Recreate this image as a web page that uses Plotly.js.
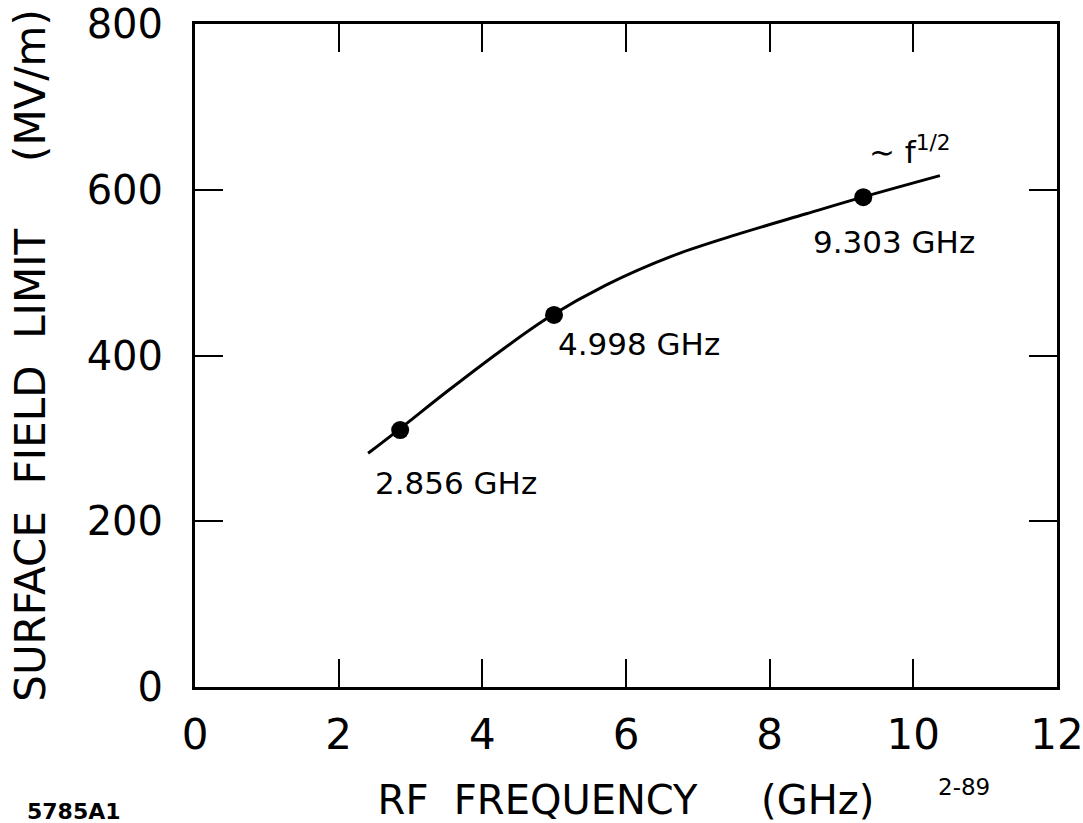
<!DOCTYPE html>
<html>
<head>
<meta charset="utf-8">
<script src="https://cdn.plot.ly/plotly-3.0.1.min.js"></script>
<style>html,body{margin:0;padding:0;background:#fff;}#chart{width:1083px;height:823px;}</style>
</head>
<body>
<div id="chart"></div>
<script>
// Curve (GHz, MV/m)
const curveFreq = [2.41, 2.83, 3.53, 4.23, 4.94, 5.72, 6.64, 7.58, 8.51, 9.21, 10.37];
const curveField = [282, 310, 358, 404, 447, 485, 520, 547, 571, 589, 617];
// Measured points
const pointFreq = [2.856, 4.998, 9.303];
const pointField = [310, 449, 591];
const pointLabels = ['2.856 GHz', '4.998 GHz', '9.303 GHz'];
const labelX = [2.484, 5.023, 8.58];
const labelY = [246, 414, 537];
// Axis ticks
const xTickVals = [0, 2, 4, 6, 8, 10, 12];
const xTickText = ['0', '2', '4', '6', '8', '10', '12'];
const yTickVals = [0, 200, 400, 600, 800];
const yTickText = ['0', '200', '400', '600', '800'];

const FONT = 'DejaVu Sans, Liberation Sans, sans-serif';
const NB = '\u00a0';

const traces = [
  {
    x: curveFreq, y: curveField, type: 'scatter', mode: 'lines',
    line: {color: '#000', width: 3, shape: 'spline', smoothing: 1},
    hoverinfo: 'skip', showlegend: false
  },
  {
    x: pointFreq, y: pointField, type: 'scatter', mode: 'markers',
    marker: {color: '#000', size: 18},
    showlegend: false
  }
];

const annotations = pointLabels.map((t, i) => ({
  x: labelX[i], y: labelY[i], xref: 'x', yref: 'y', text: t,
  showarrow: false, xanchor: 'left', yanchor: 'middle',
  font: {family: FONT, size: 31, color: '#000'}
}));
annotations.push({
  x: 9.36, y: 648, xref: 'x', yref: 'y',
  text: '\u223C' + NB + 'f<sup>1/2</sup>',
  showarrow: false, xanchor: 'left', yanchor: 'middle',
  font: {family: FONT, size: 31, color: '#000'}
});
annotations.push({
  x: -0.197, y: -0.1885, xref: 'paper', yref: 'paper', text: '<b>5785A1</b>',
  showarrow: false, xanchor: 'left', yanchor: 'middle',
  font: {family: FONT, size: 22, color: '#000'}
});
annotations.push({
  x: 0.86, y: -0.151, xref: 'paper', yref: 'paper', text: '2-89',
  showarrow: false, xanchor: 'left', yanchor: 'middle',
  font: {family: FONT, size: 23, color: '#000'}
});

const layout = {
  width: 1083, height: 823,
  margin: {l: 195, r: 26, t: 24, b: 136},
  paper_bgcolor: '#fff', plot_bgcolor: '#fff',
  font: {family: FONT, color: '#000'},
  xaxis: {
    range: [0, 12], tickvals: xTickVals, ticktext: xTickText,
    showgrid: false, zeroline: false,
    showline: true, linecolor: '#000', linewidth: 3, mirror: 'ticks',
    ticks: 'inside', ticklen: 28, tickwidth: 2, tickcolor: '#000',
    tickfont: {family: FONT, size: 42, color: '#000'},
    ticklabelstandoff: 9, ticklabeloverflow: 'allow',
    title: {text: NB + NB + NB + 'RF' + NB + NB + 'FREQUENCY' + NB + NB + NB + NB + NB + '(GHz)',
            font: {family: FONT, size: 40, color: '#000'}, standoff: 34}
  },
  yaxis: {
    range: [0, 800], tickvals: yTickVals, ticktext: yTickText,
    showgrid: false, zeroline: false,
    showline: true, linecolor: '#000', linewidth: 3, mirror: 'ticks',
    ticks: 'inside', ticklen: 28, tickwidth: 2, tickcolor: '#000',
    tickfont: {family: FONT, size: 40, color: '#000'},
    ticklabelstandoff: 21, ticklabeloverflow: 'allow',
    title: {text: 'SURFACE' + NB + NB + 'FIELD' + NB + NB + 'LIMIT' + NB + NB + NB + NB + NB + '(MV/m)',
            font: {family: FONT, size: 42, color: '#000'}, standoff: 28}
  },
  annotations: annotations
};

Plotly.newPlot('chart', traces, layout, {displayModeBar: false, staticPlot: true});
</script>
</body>
</html>
